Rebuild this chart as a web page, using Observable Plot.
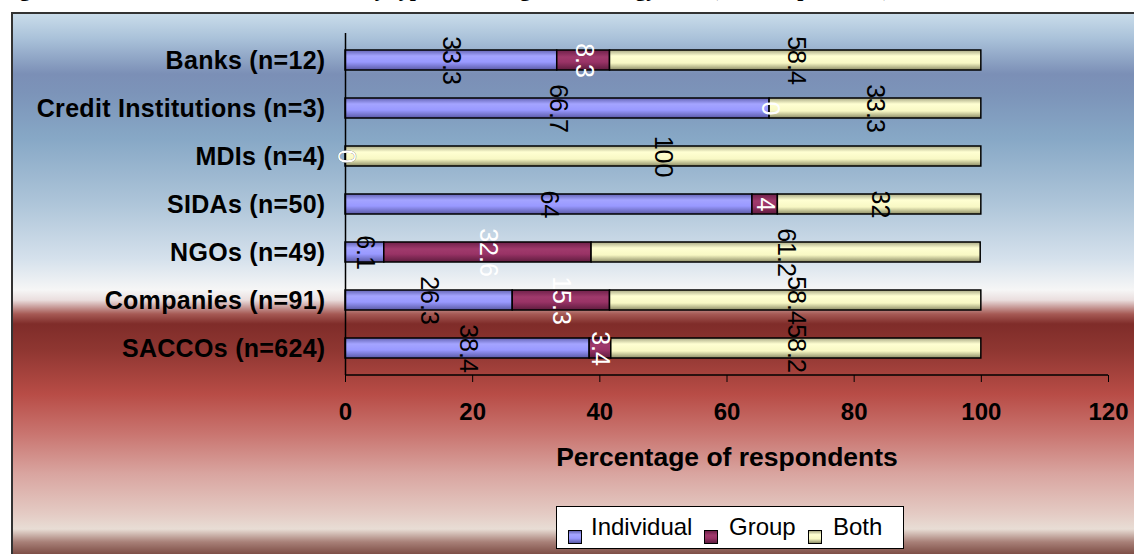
<!DOCTYPE html>
<html><head><meta charset="utf-8">
<script src="https://cdn.jsdelivr.net/npm/d3@7"></script>
<script src="https://cdn.jsdelivr.net/npm/@observablehq/plot@0.6"></script>
<style>
body{margin:0;width:1134px;height:554px;overflow:hidden;background:#fff;position:relative;font-family:"Liberation Sans",Arial,sans-serif;}
#title{position:absolute;left:0;top:-22px;font:bold 22px/22px "Liberation Serif","Times New Roman",serif;white-space:nowrap;color:#000;}
#box{position:absolute;left:11px;top:12px;width:1140px;height:560px;border-left:2px solid #333;border-top:2px solid #333;
background:linear-gradient(to bottom,#c9dcea 0px,#a9c1d9 25px,#7b8fb6 60px,#7c94b9 80px,#87a8c6 125px,#aec5d9 190px,#d5e1ec 245px,#f6f6f6 276px,#eadede 286px,#a65a55 300px,#7f2c29 310px,#8e3631 335px,#b84c46 380px,#c97570 420px,#d9a5a0 460px,#e4cbc4 500px,#e8ddd5 515px,#a88078 528px,#7a4a42 541px,#7a4a42 560px);}
#chart{position:absolute;left:0;top:0;}
#legend{position:absolute;left:556px;top:506px;width:346px;height:41px;border:1.5px solid #000;background:#fff;font-size:24px;}
.sw{position:absolute;top:23px;width:12px;height:12px;border:1px solid #000;}
.lt{position:absolute;top:6px;line-height:28px;}
</style>
</head><body>
<div id="title">Figure 4.5: Distribution of institutions by type of lending methodology used (% of respondents)</div>
<div id="box"></div>
<div id="chart"></div>
<div id="legend"></div>
<script>
const categories = ["Banks (n=12)","Credit Institutions (n=3)","MDIs (n=4)","SIDAs (n=50)","NGOs (n=49)","Companies (n=91)","SACCOs (n=624)"];
const methods = ["Individual","Group","Both"];
const individual = [33.3,66.7,0,64,6.1,26.3,38.4];
const group = [8.3,0,0,4,32.6,15.3,3.4];
const both = [58.4,33.3,100,32,61.2,58.4,58.2];
const xTicks = [0,20,40,60,80,100,120];
const axisTitle = "Percentage of respondents";

const rows = categories.flatMap((c,i)=>[
  {cat:c, method:"Individual", value:individual[i]},
  {cat:c, method:"Group", value:group[i]},
  {cat:c, method:"Both", value:both[i]}
]);

const gradIds = ["gInd","gGrp","gBoth"];
const gradStops = {
  gInd:[[0,"#6464b4"],[0.3,"#a4a4ff"],[0.6,"#9999ff"],[1,"#5a5aa6"]],
  gGrp:[[0,"#6e2049"],[0.35,"#a03a6c"],[0.6,"#993366"],[1,"#5e1c3e"]],
  gBoth:[[0,"#a8a884"],[0.3,"#ffffd2"],[0.65,"#f8f8c4"],[1,"#8c8c66"]]
};

const W = 1134, H = 480, mL = 345, mR = 26, mT = 33, mB = 105;
const plot = Plot.plot({
  width: W, height: H, marginLeft: mL, marginRight: mR, marginTop: mT, marginBottom: mB,
  style: {background: "transparent", fontFamily: "Liberation Sans, Arial, sans-serif", color: "#000", overflow: "visible"},
  x: {domain: [0,120], ticks: xTicks},
  y: {domain: categories, paddingInner: 0.59, paddingOuter: 0.295},
  color: {domain: methods, range: gradIds.map(id => `url(#${id})`)},
  marks: [
    Plot.barX(rows, Plot.stackX({x: "value", y: "cat", fill: "method", stroke: "#000", strokeWidth: 1.5})),
    Plot.ruleX([0], {stroke: "#000", strokeWidth: 1.5}),
    Plot.axisX({ticks: xTicks, tickSize: 7, tickPadding: 20, fontSize: 24, fontWeight: "bold", label: null, stroke: "#000"}),
    Plot.axisY({tickSize: 0, tickPadding: 20, fontSize: 25, fontWeight: "bold", label: null}),
    Plot.text(rows, Plot.stackX({x: "value", y: "cat", z: "method", text: d => d.method === "Group" ? "" : String(d.value), rotate: 90, fontSize: 25, fill: "#000"})),
    Plot.text(rows, Plot.stackX({x: "value", y: "cat", z: "method", text: d => d.method === "Group" ? String(d.value) : "", rotate: 90, fontSize: 25, fill: "#fff"})),
    Plot.text([axisTitle], {frameAnchor: "bottom", dy: 90, fontSize: 26.5, fontWeight: "bold", fill: "#000"})
  ]
});

const svg = d3.select(plot);
svg.selectAll("g[aria-label='y-axis tick label'] text").attr("letter-spacing", "0.3px");
const defs = svg.insert("defs", ":first-child");
for (const id of gradIds) {
  const g = defs.append("linearGradient").attr("id", id).attr("x1",0).attr("y1",0).attr("x2",0).attr("y2",1);
  for (const [o,c] of gradStops[id]) g.append("stop").attr("offset", o).attr("stop-color", c);
}
const xs = plot.scale("x");
svg.append("line")
  .attr("x1", xs.apply(0)).attr("x2", xs.apply(120))
  .attr("y1", H - mB).attr("y2", H - mB)
  .attr("stroke", "#000").attr("stroke-width", 1.5);
document.getElementById("chart").appendChild(plot);

// legend
const leg = document.getElementById("legend");
const swLeft = [11, 147, 251], txLeft = [34, 172, 276];
methods.forEach((m,i) => {
  const s = document.createElement("div");
  s.className = "sw";
  s.style.left = swLeft[i] + "px";
  const st = gradStops[gradIds[i]];
  s.style.background = `linear-gradient(to bottom, ${st.map(([o,c]) => c + " " + (o*100) + "%").join(",")})`;
  leg.appendChild(s);
  const t = document.createElement("div");
  t.className = "lt";
  t.style.left = txLeft[i] + "px";
  t.textContent = m;
  leg.appendChild(t);
});
</script>
</body></html>
